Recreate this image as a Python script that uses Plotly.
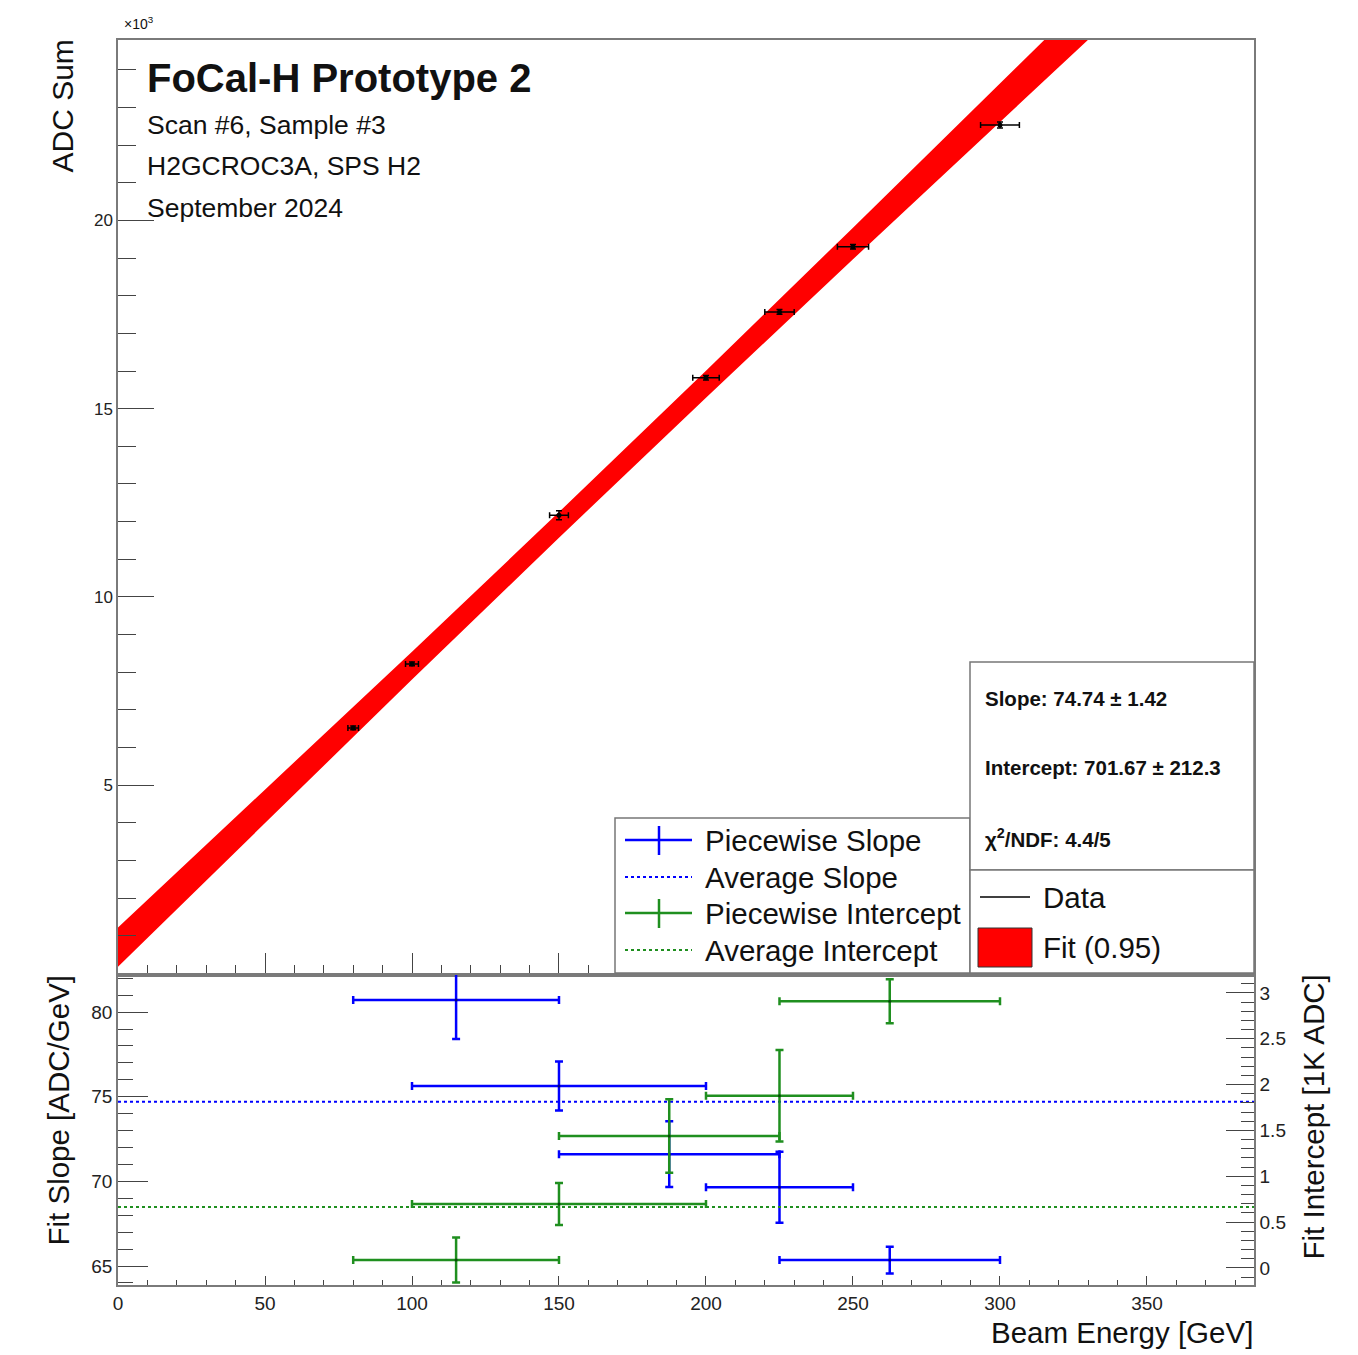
import plotly.graph_objects as go

# ---------------- data ----------------
# Energy scan: beam energy [GeV] and summed ADC
BEAM_E = [80, 100, 150, 200, 225, 250, 300]
BEAM_E_ERR = [1.8, 2.2, 3.2, 4.5, 5.0, 5.3, 6.6]
ADC_SUM = [6520, 8220, 12170, 15820, 17570, 19300, 22530]
ADC_SUM_ERR = [50, 50, 120, 60, 60, 60, 80]

# Linear fit result
FIT_SLOPE = 74.74
FIT_SLOPE_ERR = 1.42
FIT_INTERCEPT = 701.67
FIT_INTERCEPT_ERR = 212.3
FIT_CHI2 = 4.4
FIT_NDF = 5

# 95% confidence band half-width [ADC] at selected energies
BAND_E = [0, 50, 100, 150, 200, 250, 300, 330, 390]
BAND_HW = [520, 440, 370, 340, 360, 420, 510, 560, 680]

# Piecewise fits over energy windows
PW_CENTER = [115, 150, 187.5, 225, 262.5]
PW_HALFWIDTH = [35, 50, 37.5, 25, 37.5]
PW_SLOPE = [80.71, 75.63, 71.61, 69.65, 65.35]
PW_SLOPE_ERR = [2.3, 1.45, 1.94, 2.1, 0.79]
PW_INTERCEPT = [0.087, 0.698, 1.44, 1.879, 2.91]      # [1K ADC]
PW_INTERCEPT_ERR = [0.245, 0.23, 0.40, 0.50, 0.24]

AVG_SLOPE = 74.70
AVG_INTERCEPT = 0.665   # [1K ADC]

# ---------------- layout geometry ----------------
W, H = 1358, 1355
X0, X1 = 118, 1254          # frame left/right (px)
TOP_Y0, TOP_Y1 = 40, 975    # upper pad frame (px)
BOT_Y0, BOT_Y1 = 975, 1285  # lower pad frame (px)

X_RANGE = [0, 386.4]
TOP_RANGE = [-0.04, 24.79]         # x10^3 ADC
BOT_RANGE = [63.88, 82.19]         # ADC/GeV
RIGHT_RANGE = [-0.1855, 3.196]     # 1K ADC

FONT = "Liberation Sans, Arial, Helvetica, sans-serif"
BLUE = "#0000ff"
GREEN = "#1f8f1f"
RED = "#ff0000"
FRAME = "#7a7a7a"


def px(x):
    return x / W


def py(y):
    return 1 - y / H


fig = go.Figure()

# ---- upper pad: fit band, fit line, data ----
band_hi = [(FIT_SLOPE * e + FIT_INTERCEPT + hw) / 1000 for e, hw in zip(BAND_E, BAND_HW)]
band_lo = [(FIT_SLOPE * e + FIT_INTERCEPT - hw) / 1000 for e, hw in zip(BAND_E, BAND_HW)]
fig.add_trace(go.Scatter(
    x=BAND_E + BAND_E[::-1], y=band_hi + band_lo[::-1],
    fill="toself", fillcolor=RED, line=dict(width=0, color=RED),
    mode="lines", hoverinfo="skip", xaxis="x", yaxis="y", showlegend=False))

fig.add_trace(go.Scatter(
    x=BEAM_E, y=[v / 1000 for v in ADC_SUM],
    mode="markers",
    marker=dict(color="black", size=5),
    error_x=dict(type="data", array=BEAM_E_ERR, color="black", thickness=1.5, width=3),
    error_y=dict(type="data", array=[v / 1000 for v in ADC_SUM_ERR], color="black", thickness=1.5, width=3),
    xaxis="x", yaxis="y", showlegend=False))

# ---- lower pad: piecewise slopes / intercepts ----
fig.add_trace(go.Scatter(
    x=list(X_RANGE), y=[AVG_SLOPE, AVG_SLOPE], mode="lines",
    line=dict(color=BLUE, width=2, dash="dot"), xaxis="x2", yaxis="y2", showlegend=False))
fig.add_trace(go.Scatter(
    x=PW_CENTER, y=PW_SLOPE, mode="markers",
    marker=dict(color="#000080", size=3),
    error_x=dict(type="data", array=PW_HALFWIDTH, color=BLUE, thickness=2.5, width=4),
    error_y=dict(type="data", array=PW_SLOPE_ERR, color=BLUE, thickness=2.5, width=4),
    xaxis="x2", yaxis="y2", showlegend=False))

fig.add_trace(go.Scatter(
    x=list(X_RANGE), y=[AVG_INTERCEPT, AVG_INTERCEPT], mode="lines",
    line=dict(color=GREEN, width=2, dash="dot"), xaxis="x2", yaxis="y3", showlegend=False))
fig.add_trace(go.Scatter(
    x=PW_CENTER, y=PW_INTERCEPT, mode="markers",
    marker=dict(color="#0a4a0a", size=3),
    error_x=dict(type="data", array=PW_HALFWIDTH, color=GREEN, thickness=2.5, width=4),
    error_y=dict(type="data", array=PW_INTERCEPT_ERR, color=GREEN, thickness=2.5, width=4),
    xaxis="x2", yaxis="y3", showlegend=False))

# ---- axes ----
xdom = [px(X0), px(X1)]
common = dict(showgrid=False, zeroline=False, showline=True, linecolor=FRAME, linewidth=1.5,
              mirror=True, ticks="inside", tickcolor="#444", automargin=False,
              tickfont=dict(family=FONT, size=19, color="#222"))

fig.update_layout(
    width=W, height=H, margin=dict(l=0, r=0, t=0, b=0),
    paper_bgcolor="white", plot_bgcolor="white", template="none",
    showlegend=False,
    xaxis=dict(common, domain=xdom, anchor="y", range=X_RANGE, showticklabels=False,
               dtick=50, tick0=0, ticklen=22, tickwidth=1.2,
               minor=dict(dtick=10, ticklen=10, ticks="inside", tickcolor="#444", tickwidth=1.2)),
    yaxis=dict(common, domain=[py(TOP_Y1), py(TOP_Y0)], anchor="x", range=TOP_RANGE,
               tickvals=[5, 10, 15, 20], ticklen=36, tickwidth=1.2,
               tickfont=dict(family=FONT, size=17, color="#222"),
               minor=dict(dtick=1, ticklen=18, ticks="inside", tickcolor="#444", tickwidth=1.2)),
    xaxis2=dict(common, domain=xdom, anchor="y2", range=X_RANGE,
                dtick=50, tick0=0, ticklen=9, tickwidth=1.2,
                minor=dict(dtick=10, ticklen=5, ticks="inside", tickcolor="#444", tickwidth=1.2)),
    yaxis2=dict(common, domain=[py(BOT_Y1), py(BOT_Y0)], anchor="x2", range=BOT_RANGE,
                tickvals=[65, 70, 75, 80], ticklen=30, tickwidth=1.2,
                minor=dict(dtick=1, ticklen=15, ticks="inside", tickcolor="#444", tickwidth=1.2)),
    yaxis3=dict(showgrid=False, zeroline=False, showline=True, linecolor=FRAME, linewidth=1.5,
                overlaying="y2", side="right", anchor="x2", range=RIGHT_RANGE,
                ticks="inside", tickcolor="#444", automargin=False,
                tickvals=[0, 0.5, 1, 1.5, 2, 2.5, 3], ticktext=["0", "0.5", "1", "1.5", "2", "2.5", "3"],
                ticklen=28, tickwidth=1.2,
                tickfont=dict(family=FONT, size=19, color="#222"),
                minor=dict(dtick=0.1, ticklen=13, ticks="inside", tickcolor="#444", tickwidth=1.2)),
)

# ---- text ----
ann = []


def text(x, y, s, size, xanchor="left", yanchor="middle", bold=False, angle=0, color="#111"):
    ann.append(dict(x=px(x), y=py(y), xref="paper", yref="paper", text=(f"<b>{s}</b>" if bold else s),
                    showarrow=False, xanchor=xanchor, yanchor=yanchor, textangle=angle,
                    font=dict(family=FONT, size=size, color=color)))


text(145, 78, "FoCal-H Prototype 2", 40, bold=True)
text(145, 125, "Scan #6, Sample #3", 26.5)
text(145, 166, "H2GCROC3A, SPS H2", 26.5)
text(145, 208, "September 2024", 26.5)
text(122, 23, "×10<sup>3</sup>", 14)

text(62, TOP_Y0 - 2, "ADC Sum", 30, xanchor="center", yanchor="top", angle=-90)
text(58, BOT_Y0 - 2, "Fit Slope [ADC/GeV]", 29.5, xanchor="center", yanchor="top", angle=-90)
text(1313, BOT_Y0 - 2, "Fit Intercept [1K ADC]", 29.5, xanchor="center", yanchor="top", angle=-90)
text(X1 + 1, 1332, "Beam Energy [GeV]", 29.5, xanchor="right")

# fit statistics
text(983, 698, f"Slope: {FIT_SLOPE:.2f} ± {FIT_SLOPE_ERR:.2f}", 20.5, bold=True)
text(983, 767, f"Intercept: {FIT_INTERCEPT:.2f} ± {FIT_INTERCEPT_ERR:.1f}", 20.5, bold=True)
text(983, 838, f"χ<sup>2</sup>/NDF: {FIT_CHI2:.1f}/{FIT_NDF}", 20.5, bold=True)

# legend texts
text(703, 840, "Piecewise Slope", 29.5)
text(703, 877, "Average Slope", 29.5)
text(703, 913, "Piecewise Intercept", 29.5)
text(703, 950, "Average Intercept", 29.5)
text(1041, 897, "Data", 29.5)
text(1041, 947, "Fit (0.95)", 29.5)

fig.update_layout(annotations=ann)

# ---- boxes and legend symbols ----
shapes = []


def rect(x0, y0, x1, y1, line="#777", fill="white", lw=1.5):
    shapes.append(dict(type="rect", xref="paper", yref="paper", x0=px(x0), x1=px(x1), y0=py(y1), y1=py(y0),
                       line=dict(color=line, width=lw), fillcolor=fill, layer="above"))


def seg(x0, y0, x1, y1, color, lw=2, dash="solid"):
    shapes.append(dict(type="line", xref="paper", yref="paper", x0=px(x0), x1=px(x1), y0=py(y0), y1=py(y1),
                       line=dict(color=color, width=lw, dash=dash), layer="above"))


rect(615, 818, 970, 973)
rect(970, 662, 1254, 870)
rect(970, 870, 1254, 973)

seg(625, 840, 692, 840, BLUE, 2.5)
seg(659, 826, 659, 855, BLUE, 2.5)
seg(625, 877, 692, 877, BLUE, 2, "dot")
seg(625, 913, 692, 913, GREEN, 2.5)
seg(659, 899, 659, 928, GREEN, 2.5)
seg(625, 950, 692, 950, GREEN, 2, "dot")
seg(980, 897, 1030, 897, "black", 1.5)
rect(978, 928, 1032, 967, line="#333", fill=RED, lw=1)

fig.update_layout(shapes=shapes)

fig.write_html("out.html")
